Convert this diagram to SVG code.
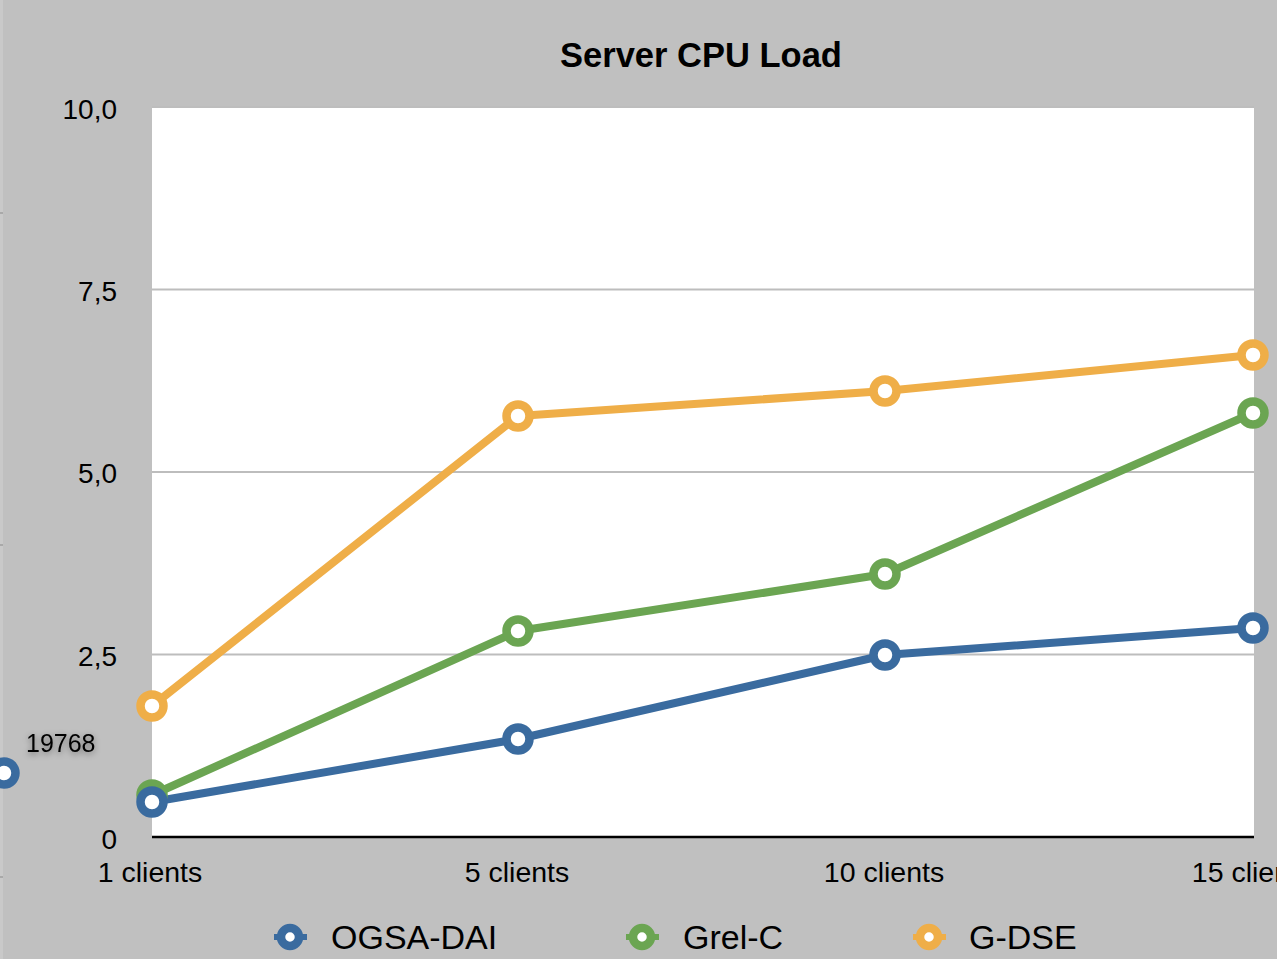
<svg xmlns="http://www.w3.org/2000/svg" width="1277" height="959" viewBox="0 0 1277 959">
<style>
text{font-family:"Liberation Sans",Arial,sans-serif;fill:#000}
.ylab{font-size:28px;text-anchor:end}
.xlab{font-size:28.5px;text-anchor:middle}
.leg{font-size:34px}
.grid{stroke:#bdbdbd;stroke-width:2}
.ln{fill:none;stroke-width:8;stroke-linejoin:round;stroke-linecap:round}
.mk{fill:#fff;stroke-width:8.5}
.b{stroke:#3a6b9f}
.g{stroke:#6ba552}
.o{stroke:#efae48}
</style>
<defs>
<filter id="sh" x="-30%" y="-50%" width="160%" height="200%">
<feDropShadow dx="0" dy="2" stdDeviation="3" flood-color="#000" flood-opacity="0.45"/>
</filter>
</defs>
<rect x="0" y="0" width="1277" height="959" fill="#c0c0c0"/>
<g id="left-strip">
<rect x="0" y="0" width="3" height="959" fill="#c9c9c9"/>
<rect x="0" y="212" width="3" height="2" fill="#a9a9a9"/>
<rect x="0" y="544" width="3" height="2" fill="#a9a9a9"/>
<rect x="0" y="876" width="3" height="2" fill="#a9a9a9"/>
</g>
<g id="title"><text x="701" y="67" font-size="34.5" font-weight="bold" text-anchor="middle">Server CPU Load</text></g>
<g id="plot">
<rect x="152" y="107" width="1102" height="730" fill="#fff"/>
<line class="grid" x1="152" y1="107" x2="1254" y2="107"/>
<line class="grid" x1="152" y1="289.5" x2="1254" y2="289.5"/>
<line class="grid" x1="152" y1="472" x2="1254" y2="472"/>
<line class="grid" x1="152" y1="654.5" x2="1254" y2="654.5"/>
<line x1="152" y1="837" x2="1254" y2="837" stroke="#000" stroke-width="2.5"/>
</g>
<g id="y-axis">
<text class="ylab" x="117" y="119">10,0</text>
<text class="ylab" x="117" y="301">7,5</text>
<text class="ylab" x="117" y="483">5,0</text>
<text class="ylab" x="117" y="666">2,5</text>
<text class="ylab" x="117" y="849">0</text>
</g>
<g id="x-axis">
<text class="xlab" x="150" y="882">1 clients</text>
<text class="xlab" x="517" y="882">5 clients</text>
<text class="xlab" x="884" y="882">10 clients</text>
<text class="xlab" x="1252" y="882">15 clients</text>
</g>
<g id="connectors">
<polyline class="ln o" points="152,706 518,416 885,391 1253,355"/>
<polyline class="ln g" points="152,795 518,631 885,574 1253,413"/>
<polyline class="ln b" points="152,802 518,739 885,655 1253,628"/>
</g>
<g id="series-gdse">
<circle class="mk o" cx="152" cy="706" r="11.5"/>
<circle class="mk o" cx="518" cy="416" r="11.5"/>
<circle class="mk o" cx="885" cy="391" r="11.5"/>
<circle class="mk o" cx="1253" cy="355" r="11.5"/>
</g>
<g id="series-grelc">
<circle class="mk g" cx="152" cy="795" r="11.5"/>
<circle class="mk g" cx="518" cy="631" r="11.5"/>
<circle class="mk g" cx="885" cy="574" r="11.5"/>
<circle class="mk g" cx="1253" cy="413" r="11.5"/>
</g>
<g id="series-ogsa">
<circle class="mk b" cx="152" cy="802" r="11.5"/>
<circle class="mk b" cx="518" cy="739" r="11.5"/>
<circle class="mk b" cx="885" cy="655" r="11.5"/>
<circle class="mk b" cx="1253" cy="628" r="11.5"/>
</g>
<g id="callout">
<circle class="mk b" cx="4" cy="773" r="11.5"/>
<text x="26" y="752" font-size="25" filter="url(#sh)">19768</text>
</g>
<g id="legend">
<g id="leg-ogsa"><line x1="274" y1="937" x2="307" y2="937" class="b" stroke-width="6"/><circle cx="290" cy="937" r="9" class="mk b" stroke-width="6"/><text class="leg" x="331" y="949">OGSA-DAI</text></g>
<g id="leg-grelc"><line x1="626" y1="937" x2="659" y2="937" class="g" stroke-width="6"/><circle cx="642" cy="937" r="9" class="mk g" stroke-width="6"/><text class="leg" x="683" y="949">Grel-C</text></g>
<g id="leg-gdse"><line x1="913" y1="937" x2="946" y2="937" class="o" stroke-width="6"/><circle cx="929" cy="937" r="9" class="mk o" stroke-width="6"/><text class="leg" x="969" y="949">G-DSE</text></g>
</g>
</svg>
